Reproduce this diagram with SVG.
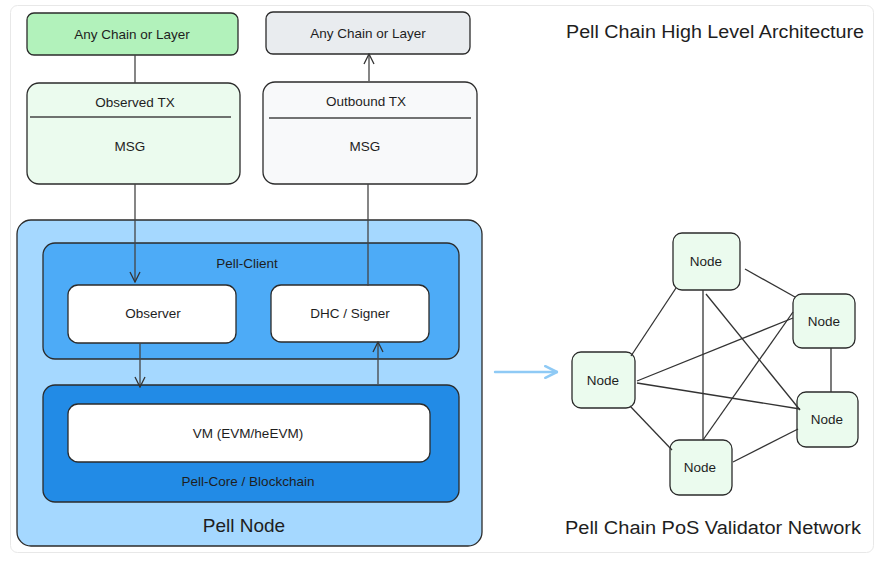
<svg xmlns="http://www.w3.org/2000/svg" width="882" height="562" viewBox="0 0 882 562">
<defs>
<style>
text{font-family:"Liberation Sans","DejaVu Sans",sans-serif;fill:#1e1e1e;text-anchor:middle;dominant-baseline:central}
.b{stroke:#2b2b2b;stroke-width:1.3}
.t{font-size:13.5px}
.h{font-size:19px}
.e{stroke:#333;stroke-width:1.3;fill:none}
.c{stroke:#444;stroke-width:1.3;fill:none}
</style>
<marker id="ah" viewBox="0 0 12 12" refX="11" refY="6" markerWidth="12" markerHeight="12" markerUnits="userSpaceOnUse" orient="auto">
<path d="M1,1 L11,6 L1,11" fill="none" stroke="#333" stroke-width="1.3"/>
</marker>
<marker id="ab" viewBox="0 0 12 12" refX="11" refY="6" markerWidth="14" markerHeight="14" markerUnits="userSpaceOnUse" orient="auto">
<path d="M1,1 L11,6 L1,11" fill="none" stroke="#8fcaf5" stroke-width="2.2" stroke-linecap="round"/>
</marker>
</defs>
<rect x="0" y="0" width="882" height="562" fill="#ffffff"/>
<rect x="10.5" y="5.5" width="863" height="547" rx="7" fill="#ffffff" stroke="#e8e8e8"/>

<text x="715" y="32" style="font-size:18px" textLength="298" lengthAdjust="spacingAndGlyphs">Pell Chain High Level Architecture</text>
<text x="713" y="528" style="font-size:18px" textLength="296" lengthAdjust="spacingAndGlyphs">Pell Chain PoS Validator Network</text>

<g id="chain-in">
<rect x="27" y="13" width="211" height="42" rx="7" fill="#b2f2bb" class="b"/>
<text x="132" y="34" class="t">Any Chain or Layer</text>
</g>
<g id="chain-out">
<rect x="266" y="12" width="204" height="42" rx="7" fill="#e9ecef" class="b"/>
<text x="368" y="33" class="t">Any Chain or Layer</text>
</g>
<g id="observed-tx">
<rect x="27" y="83" width="213" height="101" rx="12" fill="#ebfbee" class="b"/>
<line x1="30" y1="117" x2="231" y2="117" stroke="#444" stroke-width="1.3"/>
<text x="135" y="102" class="t">Observed TX</text>
<text x="130" y="146" class="t">MSG</text>
</g>
<g id="outbound-tx">
<rect x="263" y="82" width="214" height="102" rx="12" fill="#f8f9fa" class="b"/>
<line x1="269" y1="118" x2="471" y2="118" stroke="#444" stroke-width="1.3"/>
<text x="366" y="101" class="t">Outbound TX</text>
<text x="365" y="146" class="t">MSG</text>
</g>
<g id="pell-node">
<rect x="17" y="220" width="465" height="326" rx="14" fill="#a5d8ff" class="b"/>
<text x="244" y="525" class="h">Pell Node</text>
</g>
<g id="pell-client">
<rect x="43" y="243" width="416" height="116" rx="12" fill="#4dabf7" class="b"/>
<text x="247" y="263" class="t">Pell-Client</text>
</g>
<g id="observer">
<rect x="68" y="285" width="168" height="58" rx="10" fill="#ffffff" class="b"/>
<text x="153" y="313" class="t">Observer</text>
</g>
<g id="signer">
<rect x="271" y="285" width="158" height="57" rx="10" fill="#ffffff" class="b"/>
<text x="350" y="313" class="t">DHC / Signer</text>
</g>
<g id="pell-core">
<rect x="43" y="385" width="416" height="117" rx="12" fill="#228be6" class="b"/>
<text x="248" y="481" class="t">Pell-Core / Blockchain</text>
</g>
<g id="vm">
<rect x="68" y="404" width="362" height="58" rx="10" fill="#ffffff" class="b"/>
<text x="248" y="433" class="t">VM (EVM/heEVM)</text>
</g>

<g id="n-top">
<rect x="673" y="233" width="67" height="57" rx="9" fill="#ebfbee" class="b"/>
<text x="706" y="261" class="t">Node</text>
</g>
<g id="n-right-top">
<rect x="793" y="294" width="62" height="54" rx="9" fill="#ebfbee" class="b"/>
<text x="824" y="321" class="t">Node</text>
</g>
<g id="n-left">
<rect x="572" y="352" width="63" height="56" rx="9" fill="#ebfbee" class="b"/>
<text x="603" y="380" class="t">Node</text>
</g>
<g id="n-right-bottom">
<rect x="797" y="392" width="61" height="55" rx="9" fill="#ebfbee" class="b"/>
<text x="827" y="419" class="t">Node</text>
</g>
<g id="n-bottom">
<rect x="670" y="440" width="62" height="55" rx="9" fill="#ebfbee" class="b"/>
<text x="700" y="467" class="t">Node</text>
</g>

<g id="connectors">
<line x1="135" y1="55" x2="135" y2="83" class="c"/>
<line x1="369" y1="81" x2="369" y2="54" class="c" marker-end="url(#ah)"/>
<line x1="135" y1="184" x2="135" y2="282" class="c" marker-end="url(#ah)"/>
<line x1="368" y1="184" x2="368" y2="286" class="c"/>
<line x1="140" y1="343" x2="140" y2="387" class="c" marker-end="url(#ah)"/>
<line x1="378" y1="384" x2="378" y2="342" class="c" marker-end="url(#ah)"/>
<line x1="495" y1="372" x2="557" y2="372" stroke="#8fcaf5" stroke-width="2.4" stroke-linecap="round" marker-end="url(#ab)"/>
<line x1="745" y1="269" x2="795" y2="297" class="e"/>
<line x1="676" y1="288" x2="631" y2="356" class="e"/>
<line x1="703" y1="290" x2="703" y2="440" class="e"/>
<line x1="706" y1="294" x2="800" y2="410" class="e"/>
<line x1="637" y1="381" x2="793" y2="318" class="e"/>
<line x1="637" y1="383" x2="800" y2="409" class="e"/>
<line x1="630" y1="406" x2="672" y2="450" class="e"/>
<line x1="703" y1="440" x2="793" y2="312" class="e"/>
<line x1="733" y1="462" x2="798" y2="429" class="e"/>
<line x1="831" y1="348" x2="831" y2="392" class="e"/>
</g>
</svg>
